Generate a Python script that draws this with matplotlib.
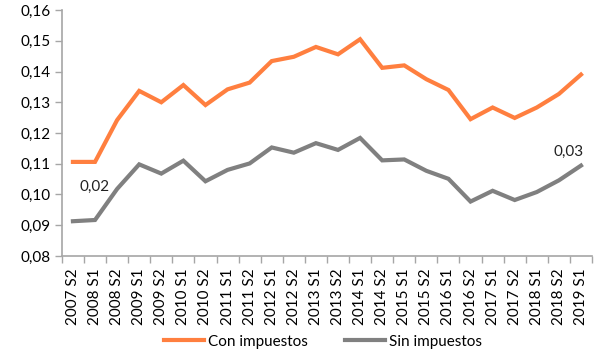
import numpy as np
import matplotlib.pyplot as plt
from matplotlib.ticker import FixedLocator, FuncFormatter

plt.rcParams['font.family'] = ['Lato', 'DejaVu Sans']

# Semesters and the two price series
periodos = ["2007 S2", "2008 S1", "2008 S2", "2009 S1", "2009 S2", "2010 S1",
            "2010 S2", "2011 S1", "2011 S2", "2012 S1", "2012 S2", "2013 S1",
            "2013 S2", "2014 S1", "2014 S2", "2015 S1", "2015 S2", "2016 S1",
            "2016 S2", "2017 S1", "2017 S2", "2018 S1", "2018 S2", "2019 S1"]
con_impuestos = [0.1106, 0.1106, 0.1242, 0.1337, 0.1300, 0.1356, 0.1291, 0.1342,
                 0.1364, 0.1434, 0.1448, 0.1480, 0.1456, 0.1505, 0.1412, 0.1420,
                 0.1375, 0.1340, 0.1245, 0.1283, 0.1249, 0.1283, 0.1327, 0.1390]
sin_impuestos = [0.0913, 0.0917, 0.1018, 0.1098, 0.1068, 0.1110, 0.1043, 0.1080,
                 0.1101, 0.1153, 0.1136, 0.1167, 0.1145, 0.1184, 0.1111, 0.1114,
                 0.1077, 0.1051, 0.0977, 0.1012, 0.0982, 0.1008, 0.1046, 0.1094]

naranja = "#FF7F3F"
gris = "#808080"

fig = plt.figure(figsize=(5.95, 3.59), dpi=100)
ax = fig.add_axes([0.104, 0.287, 0.891, 0.685])

x = np.arange(len(periodos))
ax.plot(x, con_impuestos, color=naranja, lw=3.0, label="Con impuestos",
        solid_joinstyle="miter")
ax.plot(x, sin_impuestos, color=gris, lw=3.0, label="Sin impuestos",
        solid_joinstyle="miter")

# value labels
ax.annotate("0,02", (1, sin_impuestos[1]), xytext=(0, 19), textcoords="offset points",
            ha="center", va="bottom", fontsize=11, color="#222222")
ax.annotate("0,03", (23, sin_impuestos[23]), xytext=(-9, 4.5), textcoords="offset points",
            ha="center", va="bottom", fontsize=11, color="#222222")

ax.set_xlim(-0.5, len(periodos) - 0.5)
ax.set_ylim(0.08, 0.16)
ax.set_yticks(np.arange(0.08, 0.1601, 0.01))
ax.yaxis.set_major_formatter(FuncFormatter(lambda v, p: f"{v:.2f}".replace(".", ",")))

ax.set_xticks(x)
ax.set_xticklabels(periodos, rotation=90, fontsize=11)
ax.xaxis.set_minor_locator(FixedLocator(np.arange(-0.5, len(periodos), 1.0)))
ax.tick_params(axis="x", which="major", length=0, pad=9)
ax.tick_params(axis="x", which="minor", length=5, color="#A6A6A6", width=1)
ax.tick_params(axis="y", length=5, color="#A6A6A6", width=1, labelsize=11, pad=3)

for s in ["top", "right"]:
    ax.spines[s].set_visible(False)
for s in ["left", "bottom"]:
    ax.spines[s].set_color("#A6A6A6")
    ax.spines[s].set_linewidth(1.2)

fig.legend(loc="lower center", bbox_to_anchor=(0.543, -0.01), ncol=2, frameon=False,
           fontsize=11, handlelength=2.6, columnspacing=2.4, handletextpad=0.3)

fig.savefig("out.png", dpi=100)
